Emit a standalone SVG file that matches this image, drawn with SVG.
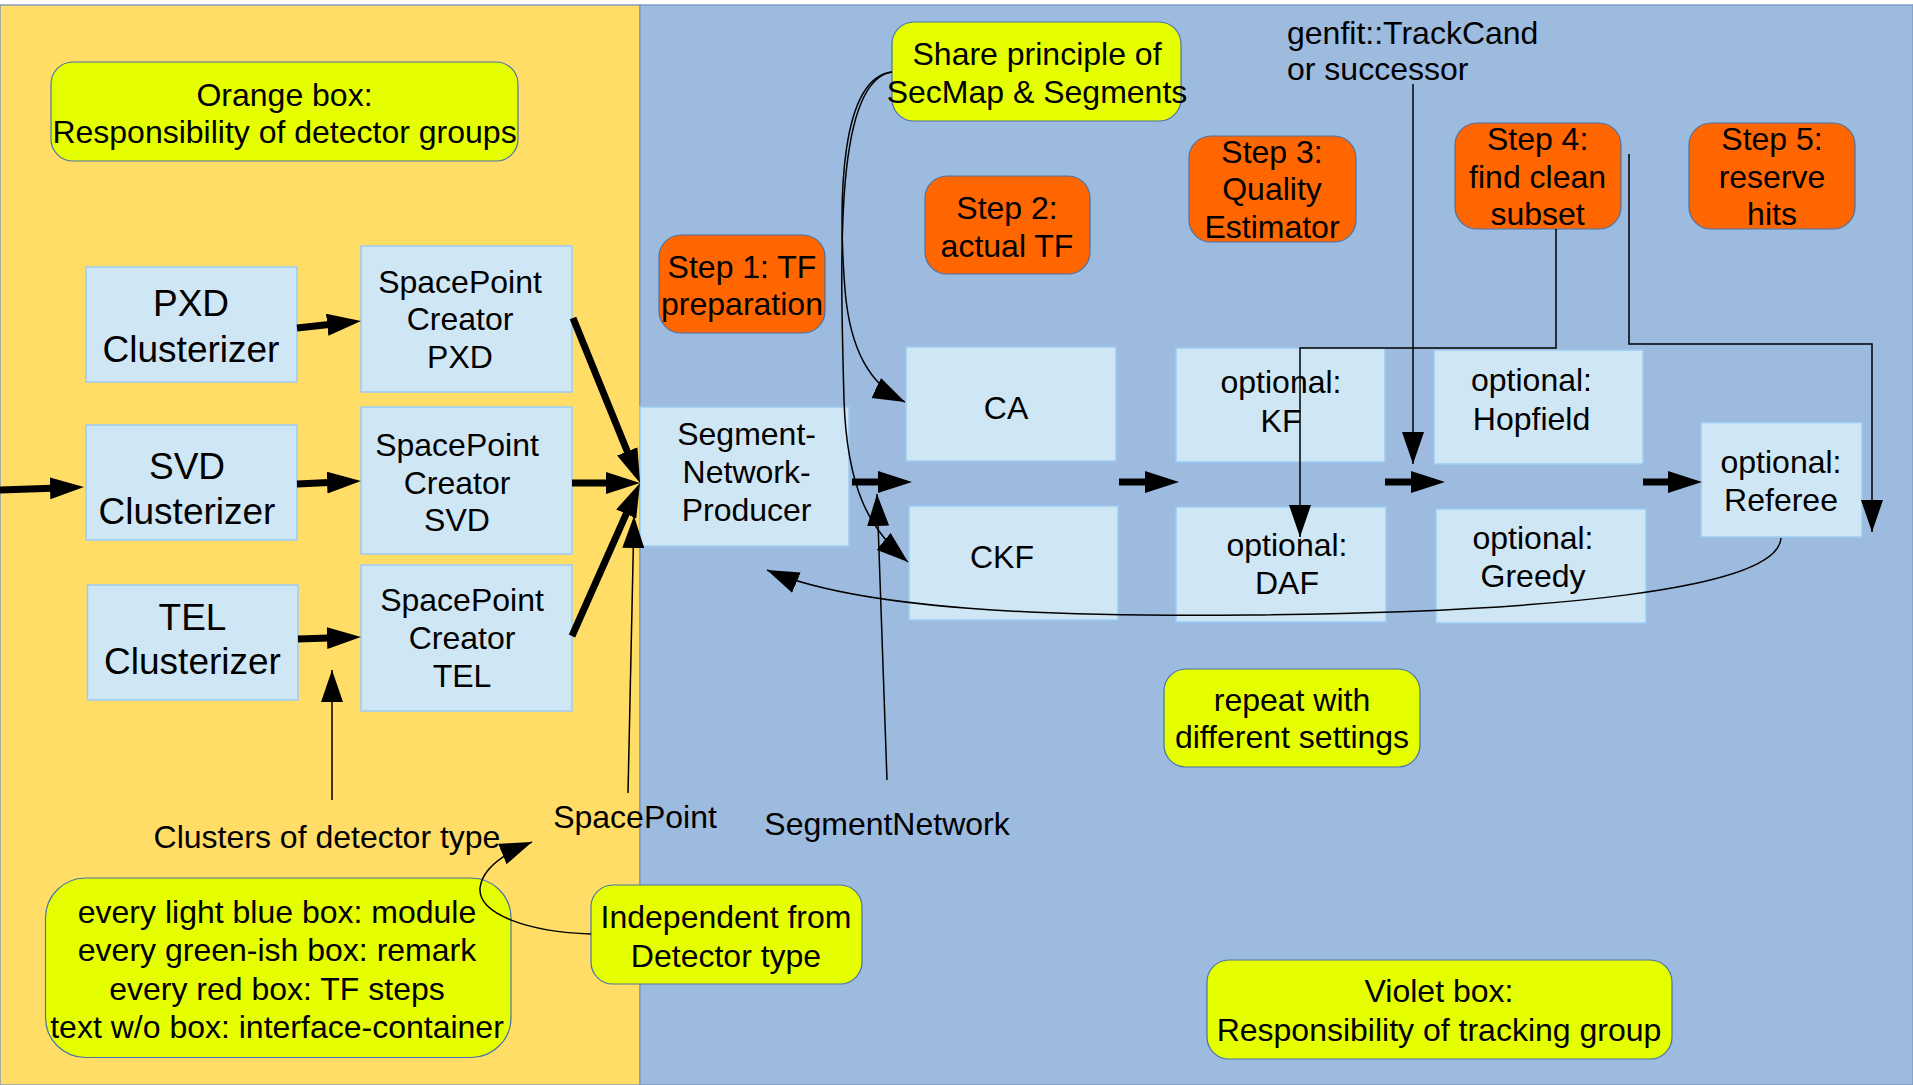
<svg xmlns="http://www.w3.org/2000/svg" width="1913" height="1085" viewBox="0 0 1913 1085">
<style>
text{font-family:"Liberation Sans",Arial,sans-serif;font-size:32px;fill:#000;text-anchor:middle}
.big{font-size:37px}
.lt{text-anchor:start}
.mod{fill:#cfe6f4;stroke:#9ccbf5;stroke-width:1.5}
.note{fill:#e6ff00;stroke:#4a72a8;stroke-width:1.2}
.step{fill:#ff6600;stroke:#4a72a8;stroke-width:1.2}
.thick{fill:none;stroke:#000;stroke-width:7;marker-end:url(#hk)}
.thin{fill:none;stroke:#000;stroke-width:1.5;marker-end:url(#hn)}
</style>
<defs>
<marker id="hk" markerUnits="userSpaceOnUse" markerWidth="36" markerHeight="24" refX="2" refY="11" orient="auto"><path d="M0,0 L34,11 L0,22 z" fill="#000"/></marker>
<marker id="hn" markerUnits="userSpaceOnUse" markerWidth="34" markerHeight="24" refX="32" refY="11" orient="auto"><path d="M0,0 L32,11 L0,22 z" fill="#000"/></marker>
</defs>
<rect x="0" y="0" width="1913" height="1085" fill="#ffffff"/>
<rect id="orange-area" x="0" y="5" width="640" height="1080" fill="#ffdd66" stroke="#8a9cb4" stroke-width="1.5"/>
<rect id="violet-area" x="640" y="5" width="1273" height="1080" fill="#9dbbdf" stroke="#7f9cc4" stroke-width="1.5"/>

<g id="note-orange"><rect class="note" x="51" y="62" width="467" height="99" rx="22"/><text x="284.5" y="106">Orange box:</text><text x="284.5" y="143">Responsibility of detector groups</text></g>

<g id="pxd-clusterizer"><rect class="mod" x="86" y="267" width="211" height="115"/><text class="big" x="191" y="316">PXD</text><text class="big" x="191" y="362">Clusterizer</text></g>
<g id="svd-clusterizer"><rect class="mod" x="86" y="425" width="211" height="115"/><text class="big" x="187" y="479">SVD</text><text class="big" x="187" y="524">Clusterizer</text></g>
<g id="tel-clusterizer"><rect class="mod" x="87.5" y="585" width="210.5" height="115"/><text class="big" x="192.5" y="630">TEL</text><text class="big" x="192.5" y="674">Clusterizer</text></g>

<g id="sp-pxd"><rect class="mod" x="361" y="246" width="211" height="146"/><text x="460" y="293">SpacePoint</text><text x="460" y="330">Creator</text><text x="460" y="368">PXD</text></g>
<g id="sp-svd"><rect class="mod" x="361" y="407" width="211" height="147"/><text x="457" y="456">SpacePoint</text><text x="457" y="494">Creator</text><text x="457" y="531">SVD</text></g>
<g id="sp-tel"><rect class="mod" x="361" y="565" width="211" height="146"/><text x="462" y="611">SpacePoint</text><text x="462" y="649">Creator</text><text x="462" y="687">TEL</text></g>

<g id="snp"><rect class="mod" x="640" y="407" width="209" height="139"/><text x="746.6" y="445">Segment-</text><text x="746.6" y="483">Network-</text><text x="746.6" y="521">Producer</text></g>
<g id="ca"><rect class="mod" x="906" y="347" width="210" height="114"/><text x="1006" y="419">CA</text></g>
<g id="ckf"><rect class="mod" x="909" y="506" width="209" height="114"/><text x="1002" y="568">CKF</text></g>
<g id="kf"><rect class="mod" x="1176" y="348" width="209" height="114"/><text x="1281" y="393">optional:</text><text x="1281" y="432">KF</text></g>
<g id="daf"><rect class="mod" x="1176" y="507" width="210" height="115"/><text x="1287" y="556">optional:</text><text x="1287" y="594">DAF</text></g>
<g id="hopfield"><rect class="mod" x="1434" y="350" width="209" height="114"/><text x="1531.5" y="391">optional:</text><text x="1531.5" y="430">Hopfield</text></g>
<g id="greedy"><rect class="mod" x="1436" y="509" width="210" height="114"/><text x="1533" y="549">optional:</text><text x="1533" y="587">Greedy</text></g>
<g id="referee"><rect class="mod" x="1701" y="422.5" width="161" height="114.5"/><text x="1781" y="473">optional:</text><text x="1781" y="511">Referee</text></g>

<g id="step1"><rect class="step" x="659" y="235" width="166" height="98" rx="22"/><text x="742" y="278">Step 1: TF</text><text x="742" y="315">preparation</text></g>
<g id="step2"><rect class="step" x="925" y="176" width="165" height="98" rx="22"/><text x="1007" y="219">Step 2:</text><text x="1007" y="257">actual TF</text></g>
<g id="step3"><rect class="step" x="1189" y="136" width="167" height="106" rx="22"/><text x="1272" y="162.5">Step 3:</text><text x="1272" y="200">Quality</text><text x="1272" y="237.5">Estimator</text></g>
<g id="step4"><rect class="step" x="1455" y="123" width="166" height="106" rx="22"/><text x="1537.6" y="150">Step 4:</text><text x="1537.6" y="187.5">find clean</text><text x="1537.6" y="225">subset</text></g>
<g id="step5"><rect class="step" x="1689" y="123" width="166" height="106" rx="22"/><text x="1772" y="150">Step 5:</text><text x="1772" y="187.5">reserve</text><text x="1772" y="225">hits</text></g>

<g id="note-share"><rect class="note" x="892" y="22" width="289" height="99" rx="22"/><text x="1037" y="65">Share principle of</text><text x="1037" y="103">SecMap &amp; Segments</text></g>
<g id="note-repeat"><rect class="note" x="1164" y="669" width="256" height="98" rx="22"/><text x="1292" y="711">repeat with</text><text x="1292" y="748">different settings</text></g>
<g id="note-violet"><rect class="note" x="1207" y="960" width="465" height="99" rx="22"/><text x="1439" y="1002">Violet box:</text><text x="1439" y="1041">Responsibility of tracking group</text></g>
<g id="note-independent"><rect class="note" x="591" y="885" width="271" height="99" rx="22"/><text x="726" y="928">Independent from</text><text x="726" y="966.6">Detector type</text></g>
<g id="note-legend"><rect class="note" x="45.5" y="878" width="465.5" height="179.5" rx="40"/><text x="277" y="923">every light blue box: module</text><text x="277" y="961">every green-ish box: remark</text><text x="277" y="1000">every red box: TF steps</text><text x="277" y="1038">text w/o box: interface-container</text></g>

<g id="label-genfit"><text class="lt" x="1287" y="43.6">genfit::TrackCand</text><text class="lt" x="1287" y="80">or successor</text></g>
<g id="label-clusters"><text x="327" y="848">Clusters of detector type</text></g>
<g id="label-spacepoint"><text x="635" y="828">SpacePoint</text></g>
<g id="label-segmentnetwork"><text x="887" y="835">SegmentNetwork</text></g>

<g id="connectors">
<path class="thick" d="M0,490 L52,488.2"/>
<path class="thick" d="M297,328 L329.2,324.5"/>
<path class="thick" d="M297,484 L329,482.5"/>
<path class="thick" d="M298,639 L329,638"/>
<path class="thick" d="M573,318 L628,453.3"/>
<path class="thick" d="M572,483 L608,483"/>
<path class="thick" d="M572,636 L627,512.2"/>
<path class="thick" d="M852,482 L880,482"/>
<path class="thick" d="M1119,482 L1147,482"/>
<path class="thick" d="M1385,482 L1413,482"/>
<path class="thick" d="M1643,482 L1670,482"/>
<path class="thin" d="M332,800 L332,670"/>
<path class="thin" d="M628,793 L634,516"/>
<path class="thin" d="M887,780 L877,494"/>
<path class="thin" d="M1413,84 L1413,464"/>
<path class="thin" d="M1556,229 L1556,348 L1300,348 L1300,537"/>
<path class="thin" d="M1629,154 L1629,344 L1872,344 L1872,532"/>
<path class="thin" d="M892,72 C840,78 838,200 845,290 C850,350 870,385 905,402"/>
<path class="thin" d="M892,72 C835,80 840,250 844,400 C847,490 870,530 908,562"/>
<path class="thin" d="M1781,538 C1778,590 1550,612 1250,615 C1050,617 860,610 767,570"/>
<path class="thin" d="M591,934 C530,932 478,915 480,888 C482,870 500,855 532,842"/>
</g>
</svg>
